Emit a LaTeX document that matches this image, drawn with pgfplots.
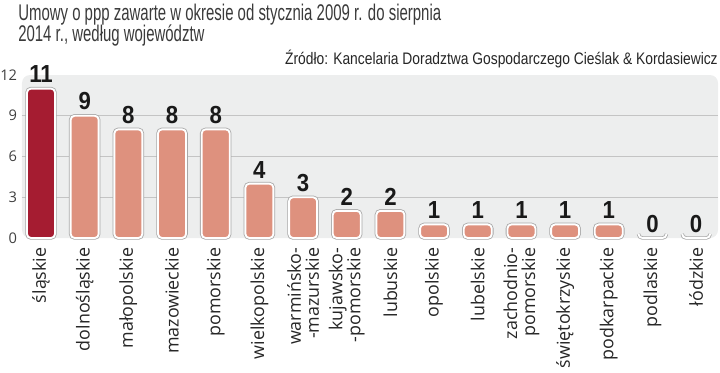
\documentclass[border=0pt]{standalone}
\usepackage{pgfplots}
\pgfplotsset{compat=1.18}
\usepackage{fontspec}
\setmainfont{Open Sans}
\newfontfamily\titlefont[FakeStretch=0.66]{Liberation Sans}
\newfontfamily\srcfont[FakeStretch=0.83]{Liberation Sans}
\newfontfamily\numfont[FakeStretch=0.90]{Liberation Sans}
\definecolor{bgcol}{HTML}{EDEEEE}
\definecolor{gridcol}{HTML}{C4C4C4}
\definecolor{salmon}{HTML}{DE917E}
\definecolor{darkred}{HTML}{A51C31}
\definecolor{titlegray}{HTML}{3A3A3A}
\definecolor{shadow}{HTML}{A8A8A8}
\begin{document}
\begin{tikzpicture}[x=0.75pt,y=0.75pt]
\useasboundingbox (0,0) rectangle (720,372);
\node[anchor=base west, inner sep=0pt, text=titlegray, font=\titlefont\fontsize{17}{17}\selectfont] at (18,351) {Umowy o ppp zawarte w okresie od stycznia 2009 r. do sierpnia};
\node[anchor=base west, inner sep=0pt, text=titlegray, font=\titlefont\fontsize{17}{17}\selectfont] at (18,330) {2014 r., według województw};
\node[anchor=base east, inner sep=0pt, text=black!85, font=\srcfont\fontsize{12.5}{12.5}\selectfont] at (718,307) {Źródło: Kancelaria Doradztwa Gospodarczego Cieślak \& Kordasiewicz};
\begin{axis}[
  at={(16.5pt,100.5pt)}, anchor=south west,
  scale only axis, width=522pt, height=122.25pt,
  xmin=-0.435, xmax=15.5, ymin=0, ymax=12,
  /pgf/number format/assume math mode=true,
  axis line style={draw=none},
  major tick length=0pt, minor tick length=0pt,
  axis background/.style={fill=bgcol, rounded corners=6pt},
  ytick={0,3,6,9,12},
  minor ytick={3,6,9},
  yminorgrids=true,
  minor grid style={gridcol, line width=0.8pt},
  yticklabel style={anchor=east, inner sep=0pt, xshift=-3.5pt, text=black!75, font=\fontsize{11}{11}\selectfont},
  xtick={0,...,15},
  xticklabels={śląskie, dolnośląskie, małopolskie, mazowieckie, pomorskie, wielkopolskie, {warmińsko-\\-mazurskie}, {kujawsko-\\-pomorskie}, lubuskie, opolskie, lubelskie, {zachodnio-\\pomorskie}, świętokrzyskie, podkarpackie, podlaskie, łódzkie},
  xticklabel style={rotate=90, anchor=east, align=right, inner ysep=0pt, inner xsep=7pt, text=black!85, font=\fontsize{13.4}{13.5}\selectfont},
  clip=false,
  nodes near coords style={anchor=south, inner sep=0pt, yshift=3.5pt, text=black!90, font=\numfont\bfseries\fontsize{18.5}{18.5}\selectfont},
]
\addplot[ybar, bar width=21pt, bar shift=0pt, draw=shadow, line width=2.6pt, rounded corners=3pt, fill=none] coordinates {
(0,11) (1,9) (2,8) (3,8) (4,8) (5,4) (6,3) (7,2) (8,2) (9,1) (10,1) (11,1) (12,1) (13,1) (14,0) (15,0)};
\addplot[ybar, bar width=21pt, bar shift=0pt, draw=white, line width=1.4pt, rounded corners=3pt, fill=salmon, nodes near coords] coordinates {
(1,9) (2,8) (3,8) (4,8) (5,4) (6,3) (7,2) (8,2) (9,1) (10,1) (11,1) (12,1) (13,1) (14,0) (15,0)};
\addplot[ybar, bar width=21pt, bar shift=0pt, draw=white, line width=1.4pt, rounded corners=3pt, fill=darkred, nodes near coords] coordinates {
(0,11)};
\end{axis}
\end{tikzpicture}
\end{document}
